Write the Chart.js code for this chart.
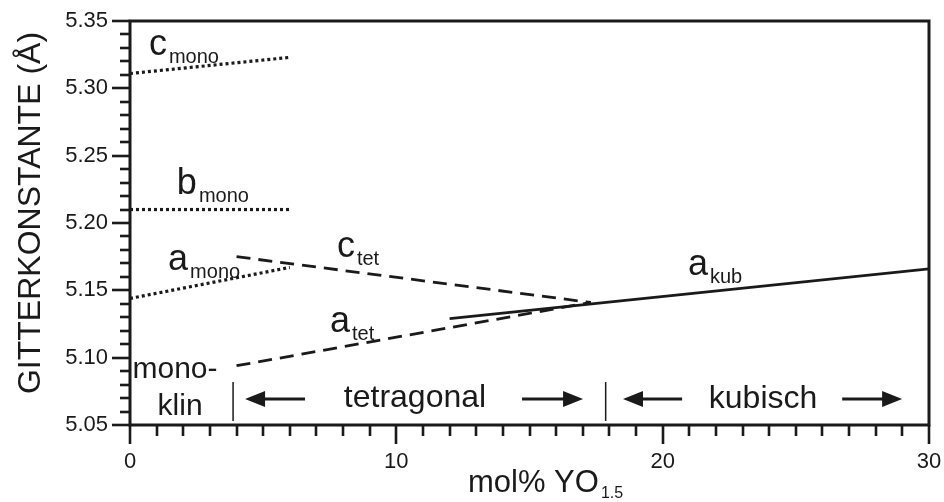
<!DOCTYPE html>
<html>
<head>
<meta charset="utf-8">
<script src="https://cdn.jsdelivr.net/npm/chart.js@4/dist/chart.umd.min.js"></script>
<style>
  html, body { margin: 0; padding: 0; background: #fff; }
  #wrap { width: 944px; height: 502px; position: relative; }
</style>
</head>
<body>
<div id="wrap"><canvas id="c" width="944" height="502"></canvas></div>
<script>
// ---- data (x = mol% YO1.5, y = lattice constant in Å) ----
const cMonoX = [0, 6];
const cMonoY = [5.311, 5.323];
const bMonoX = [0, 6];
const bMonoY = [5.210, 5.210];
const aMonoX = [0, 6];
const aMonoY = [5.144, 5.167];
const cTetX  = [4, 17.3];
const cTetY  = [5.175, 5.141];
const aTetX  = [4, 17.3];
const aTetY  = [5.094, 5.141];
const aKubX  = [12, 30];
const aKubY  = [5.129, 5.166];

// axis ticks
const xTickLabels = [0, 10, 20, 30];
const yTickLabels = [5.05, 5.10, 5.15, 5.20, 5.25, 5.30, 5.35];

// phase boundaries (mol%)
const phaseBounds = [3.87, 17.86];

const FONT = '"Liberation Sans", Arial, Helvetica, sans-serif';

function pts(xs, ys) { return xs.map((x, i) => ({ x: x, y: ys[i] })); }

const dotted = { borderDash: [3, 3], borderWidth: 3.2, borderCapStyle: 'butt' };
const dashed = { borderDash: [14, 8], borderWidth: 2.8, borderCapStyle: 'butt' };

function ds(label, xs, ys, style) {
  return Object.assign({
    label: label, data: pts(xs, ys), showLine: true, pointRadius: 0,
    borderColor: '#1a1a1a', backgroundColor: '#1a1a1a', fill: false, tension: 0
  }, style);
}

const annot = {
  id: 'annot',
  afterDraw(chart) {
    const ctx = chart.ctx;
    const xs = chart.scales.x, ys = chart.scales.y;
    const ca = chart.chartArea;
    const px = v => xs.getPixelForValue(v), py = v => ys.getPixelForValue(v);
    ctx.save();
    ctx.fillStyle = '#1a1a1a';
    ctx.strokeStyle = '#1a1a1a';

    // frame
    ctx.lineWidth = 3;
    ctx.strokeRect(ca.left, ca.top, ca.right - ca.left, ca.bottom - ca.top);

    // y ticks (minor every 0.01, major every 0.05)
    ctx.lineWidth = 2.6;
    for (let i = 0; i <= 30; i++) {
      const v = 5.05 + i * 0.01;
      const y = Math.round(py(v));
      const len = (i % 5 === 0) ? 18 : 10;
      ctx.beginPath(); ctx.moveTo(ca.left, y); ctx.lineTo(ca.left - len, y); ctx.stroke();
    }
    // x ticks (minor every 1, major every 10)
    for (let i = 0; i <= 30; i++) {
      const x = Math.round(px(i));
      const len = (i % 10 === 0) ? 19 : 11;
      ctx.beginPath(); ctx.moveTo(x, ca.bottom); ctx.lineTo(x, ca.bottom + len); ctx.stroke();
    }

    // curve labels with subscripts
    const labels = chart.options.plugins.annot.labels;
    labels.forEach(l => {
      const x = px(l.x), y = py(l.y);
      ctx.textAlign = 'left'; ctx.textBaseline = 'alphabetic';
      ctx.font = '36px ' + FONT;
      ctx.fillText(l.main, x, y);
      const w = ctx.measureText(l.main).width;
      ctx.font = '20px ' + FONT;
      ctx.fillText(l.sub, x + w + 2, y + 8);
    });

    // phase texts
    const texts = chart.options.plugins.annot.texts;
    texts.forEach(t => {
      ctx.textAlign = 'center'; ctx.textBaseline = 'alphabetic';
      ctx.font = t.size + 'px ' + FONT;
      ctx.fillText(t.text, px(t.x), py(t.y));
    });

    // phase boundaries
    ctx.lineWidth = 1.5;
    phaseBounds.forEach(b => {
      const x = px(b);
      ctx.beginPath(); ctx.moveTo(x, py(5.0819)); ctx.lineTo(x, py(5.053)); ctx.stroke();
    });

    // arrows
    const arrows = chart.options.plugins.annot.arrows;
    arrows.forEach(a => {
      const y = py(a.y);
      const xt = px(a.tail), xh = px(a.tip);
      const dir = xh > xt ? 1 : -1;
      const headLen = 20, hw = 8;
      ctx.lineWidth = 3;
      ctx.beginPath(); ctx.moveTo(xt, y); ctx.lineTo(xh - dir * headLen * 0.8, y); ctx.stroke();
      ctx.beginPath();
      ctx.moveTo(xh, y);
      ctx.lineTo(xh - dir * headLen, y - hw);
      ctx.lineTo(xh - dir * headLen, y + hw);
      ctx.closePath(); ctx.fill();
    });

    // x axis title with subscript
    ctx.textAlign = 'left'; ctx.textBaseline = 'alphabetic';
    ctx.font = '31px ' + FONT;
    const xt = 'mol% YO';
    const tx = px(12.69), tyb = ca.bottom + 67;
    ctx.fillText(xt, tx, tyb);
    const tw = ctx.measureText(xt).width;
    ctx.font = '16px ' + FONT;
    ctx.fillText('1.5', tx + tw + 2, tyb + 6);

    // y axis title (rotated)
    ctx.save();
    ctx.translate(40, (ca.top + ca.bottom) / 2 - 10);
    ctx.rotate(-Math.PI / 2);
    ctx.textAlign = 'center'; ctx.textBaseline = 'alphabetic';
    ctx.font = '32px ' + FONT;
    ctx.fillText('GITTERKONSTANTE (Å)', 0, 0);
    ctx.restore();

    ctx.restore();
  }
};

new Chart(document.getElementById('c'), {
  type: 'scatter',
  data: {
    datasets: [
      ds('c_mono', cMonoX, cMonoY, dotted),
      ds('b_mono', bMonoX, bMonoY, dotted),
      ds('a_mono', aMonoX, aMonoY, dotted),
      ds('c_tet', cTetX, cTetY, dashed),
      ds('a_tet', aTetX, aTetY, dashed),
      ds('a_kub', aKubX, aKubY, { borderWidth: 2.8 })
    ]
  },
  options: {
    responsive: false,
    animation: false,
    layout: { padding: { top: 21, right: 15, left: 0, bottom: 0 } },
    plugins: {
      legend: { display: false },
      tooltip: { enabled: false },
      annot: {
        labels: [
          { main: 'c', sub: 'mono', x: 0.71, y: 5.3247 },
          { main: 'b', sub: 'mono', x: 1.76, y: 5.2215 },
          { main: 'a', sub: 'mono', x: 1.43, y: 5.1651 },
          { main: 'c', sub: 'tet',  x: 7.77, y: 5.1748 },
          { main: 'a', sub: 'tet',  x: 7.51, y: 5.1191 },
          { main: 'a', sub: 'kub',  x: 20.95, y: 5.1614 }
        ],
        texts: [
          { text: 'mono-', x: 1.69, y: 5.0849, size: 30 },
          { text: 'klin', x: 1.88, y: 5.0574, size: 30 },
          { text: 'tetragonal', x: 10.70, y: 5.0634, size: 32 },
          { text: 'kubisch', x: 23.77, y: 5.0626, size: 32 }
        ],
        arrows: [
          { tail: 6.57, tip: 4.32, y: 5.0693 },
          { tail: 14.72, tip: 17.01, y: 5.0693 },
          { tail: 20.73, tip: 18.51, y: 5.0693 },
          { tail: 26.74, tip: 28.99, y: 5.0693 }
        ]
      }
    },
    scales: {
      x: {
        type: 'linear', min: 0, max: 30,
        afterFit(s) { s.height = 77; s.paddingLeft = 0; s.paddingRight = 0; },
        afterBuildTicks(s) { s.ticks = xTickLabels.map(v => ({ value: v })); },
        grid: { display: false, drawTicks: false },
        border: { display: false },
        ticks: { padding: 24, color: '#1a1a1a', font: { family: FONT, size: 22 }, maxRotation: 0 }
      },
      y: {
        type: 'linear', min: 5.05, max: 5.35,
        afterFit(s) { s.width = 130; s.paddingTop = 0; s.paddingBottom = 0; },
        afterBuildTicks(s) { s.ticks = yTickLabels.map(v => ({ value: v })); },
        grid: { display: false, drawTicks: false },
        border: { display: false },
        ticks: { padding: 22, color: '#1a1a1a', font: { family: FONT, size: 22 },
                 callback: v => Number(v).toFixed(2) }
      }
    }
  },
  plugins: [annot]
});
</script>
</body>
</html>
